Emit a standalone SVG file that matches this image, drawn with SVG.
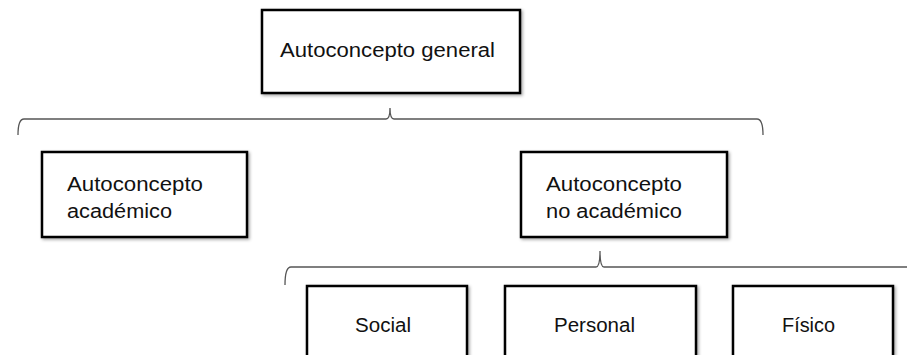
<svg xmlns="http://www.w3.org/2000/svg" width="907" height="355" viewBox="0 0 907 355">
<defs>
<filter id="sh" x="-10%" y="-10%" width="125%" height="125%">
<feDropShadow dx="1.5" dy="1.5" stdDeviation="1.8" flood-color="#000" flood-opacity="0.35"/>
</filter>
</defs>
<style>
.box{fill:#fff;stroke:#000;stroke-width:2.5;filter:url(#sh)}
.t{font-family:"Liberation Sans",Arial,sans-serif;font-size:20px;fill:#111}
.br{fill:none;stroke:#555;stroke-width:1.3}
</style>
<rect width="907" height="355" fill="#fff"/>
<g id="connectors">
<path class="br" d="M18,135 Q18,119 24,119 L386,119 Q390,119 390,108 Q390,119 394,119 L757,119 Q763,119 763,135"/>
<path class="br" d="M285,285 Q285,267 291,267 L596,267 Q600,267 600,251 Q600,267 604,267 L907,267"/>
</g>
<g id="n-general">
<rect class="box" x="262" y="10" width="258" height="83"/>
<text class="t" x="280" y="57" textLength="215" lengthAdjust="spacingAndGlyphs">Autoconcepto general</text>
</g>
<g id="n-academico">
<rect class="box" x="42" y="152" width="205" height="85"/>
<text class="t" x="67" y="191" textLength="136" lengthAdjust="spacingAndGlyphs">Autoconcepto</text>
<text class="t" x="67" y="218" textLength="105" lengthAdjust="spacingAndGlyphs">académico</text>
</g>
<g id="n-noacademico">
<rect class="box" x="521" y="152" width="206" height="85"/>
<text class="t" x="546" y="191" textLength="136" lengthAdjust="spacingAndGlyphs">Autoconcepto</text>
<text class="t" x="546" y="218" textLength="136" lengthAdjust="spacingAndGlyphs">no académico</text>
</g>
<g id="n-social">
<rect class="box" x="307" y="286" width="160" height="85"/>
<text class="t" x="355" y="332" textLength="56" lengthAdjust="spacingAndGlyphs">Social</text>
</g>
<g id="n-personal">
<rect class="box" x="505" y="286" width="191" height="85"/>
<text class="t" x="554" y="332" textLength="81" lengthAdjust="spacingAndGlyphs">Personal</text>
</g>
<g id="n-fisico">
<rect class="box" x="733" y="286" width="160" height="85"/>
<text class="t" x="782" y="332" textLength="53" lengthAdjust="spacingAndGlyphs">Físico</text>
</g>
</svg>
